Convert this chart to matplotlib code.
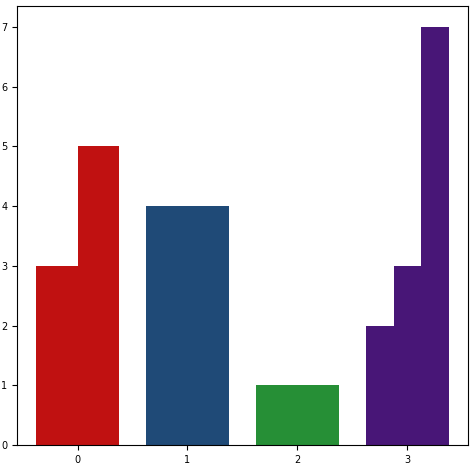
import matplotlib
matplotlib.use("Agg")
import matplotlib.pyplot as plt

categories = [0, 1, 2, 3]
group_values = [[3, 5], [4], [1], [2, 3, 7]]
colors = ["#c01111", "#1f4a77", "#268f36", "#481677"]

fig = plt.figure(figsize=(4.74, 4.65), dpi=100)
ax = fig.add_axes([0.036, 0.043, 0.951, 0.944])

group_width = 0.75
for cat, vals, col in zip(categories, group_values, colors):
    w = group_width / len(vals)
    start = cat - group_width / 2
    for i, v in enumerate(vals):
        ax.bar(start + w * (i + 0.5), v, width=w, color=col)

ax.set_xticks(categories)
ax.set_xlim(-0.55, 3.55)
ax.tick_params(labelsize=7)
fig.savefig("out.png", dpi=100)
